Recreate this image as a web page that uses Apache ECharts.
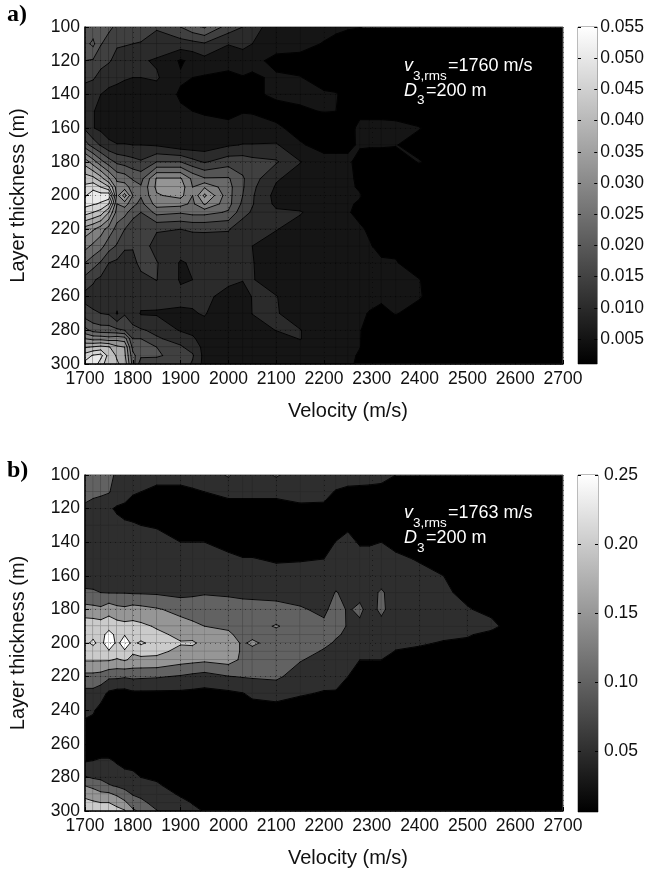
<!DOCTYPE html>
<html lang="en">
<head>
<meta charset="UTF-8">
<title>Layer thickness vs velocity</title>
<script src="https://cdn.jsdelivr.net/npm/echarts@6/dist/echarts.min.js"></script>
<style>
  html, body { margin: 0; padding: 0; background: #fff; }
  #chart { width: 647px; height: 869px; }
</style>
</head>
<body>
<div id="chart"></div>
<script>
// grid nodes of both panels
var velocities = [1700,1717,1733,1750,1767,1783,1800,1817,1850,1900,1925,1950,2000,2030,2050,2100,2150,2200,2225,2250,2275,2295,2320,2350,2400,2450,2500,2550,2600,2700];
var thicknesses = [100,110,120,130,140,150,160,170,180,190,195,200,205,210,220,230,240,250,260,270,280,285,290,295,300];

// panel a, one line per velocity, one value per thickness, unit 0.001
var panelA = [
  [22,22,19,15,13.5,13,13.8,21,35,44,47,50,52,48,35,29.5,23.5,17.5,13,16.5,25,32.5,41,48,52],
  [21,24.5,18.5,15,11.5,10.2,10.2,17,30,43,49,53,51,46,33,27,21,15,13,15,22,31,42,51,54],
  [20,19.3,16,13,10,9,9,14,25,39,46,52.5,50,44,30,25,18.5,13.5,12.5,14.5,21,31,43,52,48],
  [20,17,15,11.5,9,8,8,11,21,33,42,54,46,37,26,21,14.5,12.5,12.5,14,21,30,42,44,43],
  [18,15,13,11,8.5,7.5,7.5,10.2,18,27,30,31,28,26,22,18.5,13.5,12,12.5,9.6,20,31,38,41,42],
  [17,14.8,12.5,10.3,8.5,7.5,7.5,10.2,17,26,30,39,30,25,19,15,13,12.5,12.5,14,19,30,37,38,40],
  [16.5,14.5,11,10,8,7.5,7.5,10,16,23,26,28,25,21,16,14.8,13.5,12.5,12,13.5,15,19,22,25,26],
  [16,14.3,10.5,10,8,7.5,7.5,10,15,22,24,24,22,19,18,17,15.5,13.5,12,9.6,15,19,21,20,16],
  [15,12.5,9.5,10.5,8,7.5,7.5,9.5,19,33,33.5,32,30,25,15,12.5,14.8,14.6,12,9.5,13.5,15,19,20,15],
  [19,12.5,5,6,5,6,6.5,7,19,33,35,34,29.5,24,14.5,12,9.6,9.6,11,9.4,9.6,13,15,16,17],
  [22,13,6.5,5.5,5,5.5,6.5,7.2,16,27,28,28,27,25,15,12.2,10.5,10,10.5,9.8,9.2,10.5,13,15,14],
  [24,14,8.5,5,5,5.2,6.5,7.5,14,24,32,38,33,25,15,12.5,11.5,10.5,11,10.2,9,8.5,8.5,8.5,8.5],
  [17,10.2,7,4.5,4.5,5,6,9.5,17,24,25,25,25,23,14.8,12.5,11.5,11,8.5,8,7.5,7.5,7.5,7.5,7.5],
  [14.5,11,8,5.2,5,5.3,7,10.2,17,19.5,19.5,19,18,16,12,10.5,10.3,10.2,8,7.5,7,7,7,7,7],
  [11.5,10,6.5,5,5,5.2,7,10.2,16,16.5,15.5,15,14.8,14,11,10,10.2,10.3,10.2,10.1,8,7.5,7,7,7],
  [8,7,4.5,6,6,4.5,6,10.5,15,10.5,9.5,8.5,9,10.8,10.2,8,7.5,7.5,10.2,10.4,10.1,8,7,7,7],
  [7.5,6.5,4.5,5.6,6,5.2,4.5,5.8,10.2,8,7.5,7,8,10.4,8,7,7,7,7,7.5,10.2,10.2,8,7,7],
  [6.5,5.3,4,4.5,5.8,5.6,4,4.5,6.5,6.5,6.5,6.5,6.5,7,6.5,6.5,6.5,6.5,6.5,6.5,6.5,6.5,6.5,6.5,6.5],
  [6,4.8,3.5,4,5.7,5.5,3.5,4.5,6.5,6.5,6.5,6.5,6.5,6.5,6.5,6.5,6.5,6.5,6.5,6.5,6.5,6.5,6.5,6.5,6.5],
  [5.8,4,3,3,4.5,4.5,4,5,6,6.5,6.3,6,6,5.8,6,6.5,6.5,6.5,6.5,6.5,6.5,6.5,6.5,6.5,6.5],
  [5.6,3.5,3,3,3,4.5,6.5,5.8,4.5,4.5,5,5.8,5,4.5,6,6,6,6,6,5.8,5.6,5.6,5.6,5,4.5],
  [5.2,3,3,3,3,4.5,6.5,5.9,3.5,3.5,3.5,4,3.5,3.5,5,5.8,6,6,6,5.4,4.8,4.5,4.2,4,3.5],
  [4.5,3,3,3,3,4.5,6.5,6,3,3,3,3,3,3,3.5,4.5,6,6,6.2,4.5,3,3,3,3,3],
  [3,3,3,3,3,4.2,6.5,5.7,3.5,3,3,3,3,3,3,4.5,5.8,6,6,5.7,3,3,3,3,3],
  [3,3,3,3,3,3,5.7,3.5,5.8,3,3,3,3,3,3,3,3,5.6,5.8,4,3,3,3,3,3],
  [3,3,3,3,3,3,3,3,3,3,3,3,3,3,3,3,3,3,3,3,3,3,3,3,3],
  [3,3,3,3,3,3,3,3,3,3,3,3,3,3,3,3,3,3,3,3,3,3,3,3,3],
  [3,3,3,3,3,3,3,3,3,3,3,3,3,3,3,3,3,3,3,3,3,3,3,3,3],
  [3,3,3,3,3,3,3,3,3,3,3,3,3,3,3,3,3,3,3,3,3,3,3,3,3],
  [3,3,3,3,3,3,3,3,3,3,3,3,3,3,3,3,3,3,3,3,3,3,3,3,3]
];

// panel b, same layout, unit 0.01
var panelB = [
  [13,12,9,8,8,8,8.5,10.5,17,23,23.5,24,22.5,20.5,13.5,8.5,6,4,2,4.5,10.5,15,19,21,22],
  [12.5,11,8.5,7,7,7,8,10.5,16.5,23,24,25.8,23,20.5,13.5,8.5,5.5,3.5,2,5,9.5,13.5,18,20.5,21.5],
  [12,10.9,7.5,6.5,6.5,6.5,7.5,10,16,22.5,23,23.5,22.5,20.5,13,7,3.5,2,2,5.5,9,12.5,16,20,21],
  [11.5,10.4,5.5,6.5,7,7,8,9.8,18,23,27,28,24.5,20.5,11,4,2,2,2,5.5,8,10.5,16,20,21],
  [9,7.5,4.5,6,7,7,8,9.8,16.5,22,23.5,24,23,19.5,11,3,2,2,2,4.5,7,9.5,14,19,21],
  [8,7,4,5.5,7,7,8,9.8,16,21.5,24.8,27,24.5,20.5,10.5,3,2,2,2,3.5,6.5,8.5,12,16,20.5],
  [7.5,5.5,3,5.5,7,7,8,9.5,17,21.5,23,24,20.5,19,11,4,2,2,2,3.5,6,8,9.7,12.5,16],
  [7.3,5,3,5,7,7,8,9.5,16.5,21,22.5,25.8,21.5,19,10.8,4,2,2,2,3,5,7,9,11,14],
  [6.5,4,2,4.5,7,7,8,9.3,15.5,19.5,21,23,21,19,10.5,4,2,2,2,2.5,4.5,5.5,7,8.5,10.2],
  [6.5,4,2,3,5,7,7.5,8.5,13.5,17,19,20.3,19,17,9.5,4,2,2,2,2,2.5,3.5,4.5,6,7],
  [6.8,4.5,2,2.5,5,7,7.7,9.1,12.8,16,17.5,21,17.8,16.5,8.7,3.8,2,2,2,2,2,3,3.5,4.8,5.8],
  [7,5,2,2,5,7,8,9.7,12,15,16,18,16.5,16,8,3.5,2,2,2,2,2,2,2.5,3.5,4.8],
  [10.6,6,3.5,2,3.5,6,7,9.5,11.5,14.5,15.5,17.5,17.5,17,9.8,4,2,2,2,2,2,2,2,2,2],
  [7,6,3.5,2,3,5.2,7,9.4,11,13,14,14.3,14.3,14,10.3,4.8,2,2,2,2,2,2,2,2,2],
  [7,6,3.5,2,3,5.2,7,9.3,11,12.5,13.5,16,13.5,13,10.5,6,3,2,2,2,2,2,2,2,2],
  [10.6,6,3.5,2,2.5,4.5,6.5,9,11,15.5,13,12.5,12.5,12.5,10.8,7,3,2,2,2,2,2,2,2,2],
  [7,6,4.5,2,2.5,4.7,6.5,8,10.5,12,12,12,12,10.3,8,5.5,2.5,2,2,2,2,2,2,2,2],
  [7,5.8,4.5,2,2.5,5,6.5,7.5,9,11,12,11,9.5,8.5,7,4.6,2,2,2,2,2,2,2,2,2],
  [6.5,4.8,3,2,5.2,6,7,10.3,12,12,10.5,9.5,8.5,8,7,4.5,2,2,2,2,2,2,2,2,2],
  [6,4.5,3,4.5,5.8,6.5,7,8.5,9.5,9.6,9.3,9,8.5,7.5,5,3,2,2,2,2,2,2,2,2,2],
  [6,4.4,2,3,4.7,6,7,8.5,11,9,8,7.5,7,5,3,2,2,2,2,2,2,2,2,2,2],
  [6,4.3,2,3,4.7,6,7,8,8.2,8,7.5,7,6.5,5,3,2,2,2,2,2,2,2,2,2,2],
  [5.8,4.2,2,3,5,6.3,7,10.8,11,8.5,8,7,6.5,5,3,2,2,2,2,2,2,2,2,2,2],
  [5,3,2,2,4,5.7,6.5,7,7.5,7,6.5,6,4.8,3,2,2,2,2,2,2,2,2,2,2,2],
  [3,2,2,2,2.5,4.7,6,6.5,6.5,6.5,6,5.3,4.5,3,2,2,2,2,2,2,2,2,2,2,2],
  [2,2,2,2,2,3,5,6,6.5,6,5.5,4.8,3,2,2,2,2,2,2,2,2,2,2,2,2],
  [2,2,2,2,2,2,2,3.5,5.4,6,5.5,4,2.5,2,2,2,2,2,2,2,2,2,2,2,2],
  [2,2,2,2,2,2,2,2,3.5,6.5,3.5,2,2,2,2,2,2,2,2,2,2,2,2,2,2],
  [2,2,2,2,2,2,2,2,2,2,2,2,2,2,2,2,2,2,2,2,2,2,2,2,2],
  [2,2,2,2,2,2,2,2,2,2,2,2,2,2,2,2,2,2,2,2,2,2,2,2,2]
];

var levelsA = [5.5,10,14.5,19,23.5,28,32.5,37,41.5,46,50.5];
var levelsB = [5,10,15,20,25];
var rangeA = [1, 55];
var rangeB = [0.6, 25];

var velocityTicks = [1700,1800,1900,2000,2100,2200,2300,2400,2500,2600,2700];
var barTicksA = [0.005,0.010,0.015,0.020,0.025,0.030,0.035,0.040,0.045,0.050,0.055];
var barTicksB = [0.05,0.10,0.15,0.20,0.25];

var FONT = '"Liberation Sans", Arial, sans-serif';

function grayOf(level, range) {
  var g = Math.round(255 * (level - range[0]) / (range[1] - range[0]));
  g = Math.max(0, Math.min(255, g));
  return 'rgb(' + g + ',' + g + ',' + g + ')';
}

// corners of one cell, in walk order
function cellCorners(values, i, j) {
  return [
    { x: velocities[i], y: thicknesses[j], v: values[i][j] },
    { x: velocities[i + 1], y: thicknesses[j], v: values[i + 1][j] },
    { x: velocities[i + 1], y: thicknesses[j + 1], v: values[i + 1][j + 1] },
    { x: velocities[i], y: thicknesses[j + 1], v: values[i][j + 1] }
  ];
}

function crossing(a, b, level) {
  var t = (level - a.v) / (b.v - a.v);
  return [a.x + t * (b.x - a.x), a.y + t * (b.y - a.y)];
}

// part of the cell at or above level, plus the contour pieces through it
function sliceCell(corners, level) {
  var poly = [], hits = [];
  for (var k = 0; k < 4; k++) {
    var a = corners[k], b = corners[(k + 1) % 4];
    var aIn = a.v >= level, bIn = b.v >= level;
    if (aIn) poly.push([a.x, a.y]);
    if (aIn !== bIn) {
      var p = crossing(a, b, level);
      poly.push(p);
      hits.push({ p: p, leaving: aIn });
    }
  }
  var segs = [];
  for (var h = 0; h < hits.length; h++) {
    if (hits[h].leaving) segs.push([hits[h].p, hits[(h + 1) % hits.length].p]);
  }
  return { poly: poly, segs: segs };
}

function cellItems() {
  var items = [];
  for (var i = 0; i < velocities.length - 1; i++) {
    for (var j = 0; j < thicknesses.length - 1; j++) {
      items.push([velocities[i], thicknesses[j], i, j]);
    }
  }
  return items;
}

function fillSeries(values, levels, range, gridIdx) {
  return {
    type: 'custom', xAxisIndex: gridIdx, yAxisIndex: gridIdx, z: 1, silent: true,
    animation: false, progressive: 0, clip: true,
    data: cellItems(),
    renderItem: function (params, api) {
      var corners = cellCorners(values, api.value(2), api.value(3));
      var kids = [];
      levels.forEach(function (level) {
        var s = sliceCell(corners, level);
        if (s.poly.length < 3) return;
        var color = grayOf(level, range);
        kids.push({
          type: 'polygon',
          shape: { points: s.poly.map(function (p) { return api.coord(p); }) },
          style: { fill: color, stroke: color, lineWidth: 0.5 }
        });
      });
      return { type: 'group', children: kids };
    }
  };
}

function lineSeries(values, levels, gridIdx) {
  return {
    type: 'custom', xAxisIndex: gridIdx, yAxisIndex: gridIdx, z: 2, silent: true,
    animation: false, progressive: 0, clip: true,
    data: cellItems(),
    renderItem: function (params, api) {
      var corners = cellCorners(values, api.value(2), api.value(3));
      var kids = [];
      levels.forEach(function (level) {
        sliceCell(corners, level).segs.forEach(function (seg) {
          var p = api.coord(seg[0]), q = api.coord(seg[1]);
          kids.push({
            type: 'line',
            shape: { x1: p[0], y1: p[1], x2: q[0], y2: q[1] },
            style: { stroke: '#000', lineWidth: 0.9, lineCap: 'round' }
          });
        });
      });
      return { type: 'group', children: kids };
    }
  };
}

function plainLabel(v) { return String(v); }

function mainX(gridIdx) {
  return {
    type: 'value', gridIndex: gridIdx, min: 1700, max: 2700, interval: 100, z: 5,
    name: 'Velocity (m/s)', nameLocation: 'middle', nameGap: 37,
    nameTextStyle: { fontFamily: FONT, fontSize: 20, color: '#111', padding: [0, 0, 0, 48] },
    axisLine: { show: true, onZero: false, lineStyle: { color: '#000', width: 1.5 } },
    axisTick: { show: true, inside: true, length: 4, lineStyle: { color: '#000' } },
    axisLabel: { fontFamily: FONT, fontSize: 17.5, color: '#111', margin: 6, customValues: velocityTicks, formatter: plainLabel },
    splitLine: { show: true, lineStyle: { type: [1, 4], color: '#000', width: 1, opacity: 0.45 } }
  };
}

function mainY(gridIdx) {
  return {
    type: 'value', gridIndex: gridIdx, min: 100, max: 300, interval: 20, inverse: true, z: 5,
    name: 'Layer thickness (m)', nameLocation: 'middle', nameGap: 57, nameRotate: 90,
    nameTextStyle: { fontFamily: FONT, fontSize: 20, color: '#111' },
    axisLine: { show: true, onZero: false, lineStyle: { color: '#000', width: 1.5 } },
    axisTick: { show: true, inside: true, length: 4, lineStyle: { color: '#000' } },
    axisLabel: { fontFamily: FONT, fontSize: 17.5, color: '#111', margin: 5, formatter: plainLabel },
    splitLine: { show: true, lineStyle: { type: [1, 4], color: '#000', width: 1, opacity: 0.45 } }
  };
}

function barAxes(gridIdx, lo, hi, ticks, digits, margin) {
  var x = {
    type: 'category', gridIndex: gridIdx, data: ['c'], show: false
  };
  var right = {
    type: 'value', gridIndex: gridIdx, position: 'right', min: lo, max: hi, z: 5,
    axisLine: { show: false },
    axisTick: { show: true, inside: true, length: 3, customValues: ticks, lineStyle: { color: '#000' } },
    axisLabel: {
      fontFamily: FONT, fontSize: 17.5, color: '#111', margin: margin, customValues: ticks,
      showMinLabel: true, showMaxLabel: true,
      formatter: function (v) { return v.toFixed(digits); }
    },
    splitLine: { show: false }
  };
  var left = {
    type: 'value', gridIndex: gridIdx, position: 'left', min: lo, max: hi, z: 5,
    axisLine: { show: false },
    axisTick: { show: true, inside: true, length: 3, customValues: ticks, lineStyle: { color: '#000' } },
    axisLabel: { show: false },
    splitLine: { show: false }
  };
  return { x: x, right: right, left: left };
}

var axesBarA = barAxes(1, 0.001, 0.055, barTicksA, 3, 3);
var axesBarB = barAxes(3, 0.006, 0.25, barTicksB, 2, 6);

function barSeries(xIdx, yIdx, hi) {
  return {
    type: 'bar', xAxisIndex: xIdx, yAxisIndex: yIdx, barWidth: '100%', silent: true, animation: false,
    data: [hi],
    itemStyle: {
      color: new echarts.graphic.LinearGradient(0, 0, 0, 1, [
        { offset: 0, color: '#fff' }, { offset: 1, color: '#000' }
      ])
    }
  };
}

function note(x, y, text, size, italic) {
  return {
    type: 'text', x: x, y: y, z: 20, silent: true,
    style: {
      text: text, fill: '#fff', fontFamily: FONT, fontSize: size,
      fontStyle: italic ? 'italic' : 'normal', verticalAlign: 'middle', align: 'left'
    }
  };
}

function panelLetter(y, text) {
  return {
    type: 'text', x: 7, y: y, silent: true,
    style: {
      text: text, fill: '#000', fontFamily: '"Liberation Serif", serif', fontSize: 24,
      fontWeight: 'bold', verticalAlign: 'middle', align: 'left'
    }
  };
}

var chart = echarts.init(document.getElementById('chart'), null, { renderer: 'canvas' });
chart.setOption({
  animation: false,
  backgroundColor: '#fff',
  grid: [
    { left: 82, top: 27, width: 481, height: 337, show: true, backgroundColor: '#000', borderColor: '#555', borderWidth: 1 },
    { left: 578, top: 27, width: 20, height: 337, show: true, borderColor: '#777', borderWidth: 1 },
    { left: 82, top: 475, width: 481, height: 337, show: true, backgroundColor: '#000', borderColor: '#555', borderWidth: 1 },
    { left: 578, top: 475, width: 20, height: 337, show: true, borderColor: '#777', borderWidth: 1 }
  ],
  xAxis: [mainX(0), axesBarA.x, mainX(2), axesBarB.x],
  yAxis: [mainY(0), axesBarA.right, mainY(2), axesBarB.right, axesBarA.left, axesBarB.left],
  series: [
    fillSeries(panelA, levelsA, rangeA, 0),
    lineSeries(panelA, levelsA, 0),
    fillSeries(panelB, levelsB, rangeB, 2),
    lineSeries(panelB, levelsB, 2),
    barSeries(1, 1, 0.055),
    barSeries(3, 3, 0.25)
  ],
  graphic: [
    panelLetter(15, 'a)'),
    panelLetter(471, 'b)'),
    note(404, 66, 'v', 18, true), note(413, 76, '3,rms', 13.5), note(448, 66, '=1760 m/s', 18),
    note(404, 91, 'D', 18, true), note(417, 100, '3', 13.5), note(426, 91, '=200 m', 18),
    note(404, 513, 'v', 18, true), note(413, 523, '3,rms', 13.5), note(448, 513, '=1763 m/s', 18),
    note(404, 538, 'D', 18, true), note(417, 548, '3', 13.5), note(426, 538, '=200 m', 18)
  ]
});
</script>
</body>
</html>
